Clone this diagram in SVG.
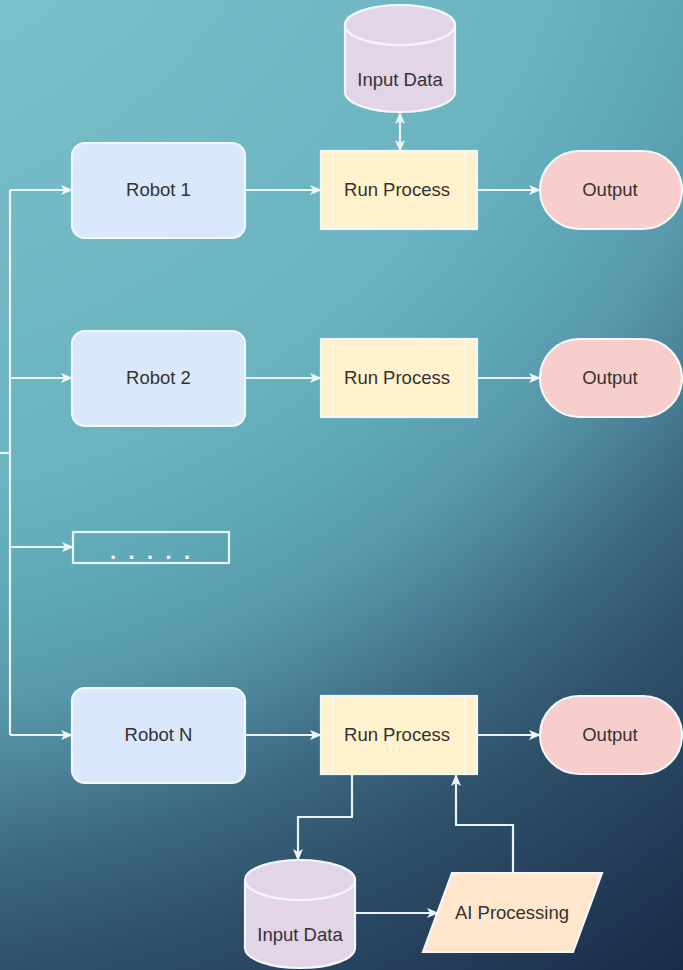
<svg xmlns="http://www.w3.org/2000/svg" width="683" height="970" viewBox="0 0 683 970">
  <defs>
    <radialGradient id="bg" gradientUnits="userSpaceOnUse" cx="-200" cy="-300" r="1550" fx="-200" fy="-300">
      <stop offset="0" stop-color="#8acbd4"/>
      <stop offset="0.23" stop-color="#7cc0cb"/>
      <stop offset="0.52" stop-color="#6ab3bf"/>
      <stop offset="0.60" stop-color="#5ea7b7"/>
      <stop offset="0.66" stop-color="#5898aa"/>
      <stop offset="0.71" stop-color="#4b8298"/>
      <stop offset="0.76" stop-color="#3c6881"/>
      <stop offset="0.83" stop-color="#2f5069"/>
      <stop offset="1" stop-color="#192a47"/>
    </radialGradient>
    <marker id="arr" viewBox="0 0 12 10" refX="11" refY="5" markerWidth="12" markerHeight="10" markerUnits="userSpaceOnUse" orient="auto-start-reverse">
      <path d="M0,0 L12,5 L0,10 L3,5 Z" fill="#eef6f8"/>
    </marker>
    <style>
      .node { stroke: #f2f7fa; stroke-width: 2.2; }
      .robot { fill: #dae8fc; }
      .proc { fill: #fff2cc; }
      .out { fill: #f8cecc; }
      .db { fill: #e1d5e7; }
      .ai { fill: #ffe6cc; }
      .inner { stroke: #fdfaf0; stroke-width: 1.2; fill: none; }
      .lbl { font-family: "Liberation Sans", Arial, Helvetica, sans-serif; font-size: 18.5px; fill: #333333; text-anchor: middle; }
      .conn { fill: none; stroke: #e8f3f6; stroke-width: 2.2; }
      .arrow { marker-end: url(#arr); }
    </style>
  </defs>

  <rect x="0" y="0" width="683" height="970" fill="url(#bg)"/>

  <g id="connectors">
    <path class="conn" d="M0,453 H10"/>
    <path class="conn" d="M10,190 V735"/>
    <path class="conn arrow" d="M10,190 H72"/>
    <path class="conn arrow" d="M10,378 H72"/>
    <path class="conn arrow" d="M10,547 H73"/>
    <path class="conn arrow" d="M10,735 H72"/>
    <path class="conn arrow" d="M245,190 H321"/>
    <path class="conn arrow" d="M245,378 H321"/>
    <path class="conn arrow" d="M245,735 H321"/>
    <path class="conn arrow" d="M477,190 H540"/>
    <path class="conn arrow" d="M477,378 H540"/>
    <path class="conn arrow" d="M477,735 H540"/>
    <path class="conn" d="M400,113 V151" marker-start="url(#arr)" marker-end="url(#arr)"/>
    <path class="conn arrow" d="M352,774 V817 H298 V860"/>
    <path class="conn arrow" d="M355,913 H438"/>
    <path class="conn arrow" d="M513,873 V825 H456 V775"/>
  </g>

  <g id="robot1">
    <rect class="node robot" x="72" y="143" width="173" height="95" rx="13"/>
    <text class="lbl" x="158.5" y="196">Robot 1</text>
  </g>
  <g id="process1">
    <rect class="node proc" x="321" y="151" width="156" height="78"/>
    <line class="inner" x1="333" y1="152" x2="333" y2="228"/>
    <line class="inner" x1="465" y1="152" x2="465" y2="228"/>
    <text class="lbl" x="397" y="196">Run Process</text>
  </g>
  <g id="output1">
    <rect class="node out" x="540" y="151" width="142" height="78" rx="39"/>
    <text class="lbl" x="610" y="196">Output</text>
  </g>
  <g id="inputdata1">
    <path class="node db" d="M345,25 A55,20 0 0 1 455,25 V92 A55,20 0 0 1 345,92 Z"/>
    <path class="node" fill="none" d="M345,25 A55,20 0 0 0 455,25"/>
    <text class="lbl" x="400" y="86">Input Data</text>
  </g>

  <g id="robot2">
    <rect class="node robot" x="72" y="331" width="173" height="95" rx="13"/>
    <text class="lbl" x="158.5" y="384">Robot 2</text>
  </g>
  <g id="process2">
    <rect class="node proc" x="321" y="339" width="156" height="78"/>
    <line class="inner" x1="333" y1="340" x2="333" y2="416"/>
    <line class="inner" x1="465" y1="340" x2="465" y2="416"/>
    <text class="lbl" x="397" y="384">Run Process</text>
  </g>
  <g id="output2">
    <rect class="node out" x="540" y="339" width="142" height="78" rx="39"/>
    <text class="lbl" x="610" y="384">Output</text>
  </g>

  <g id="ellipsis">
    <rect x="73" y="532" width="156" height="31" fill="none" stroke="#e8f3f6" stroke-width="2.2"/>
    <text x="110" y="559" font-family="'Liberation Sans', Arial, sans-serif" font-size="22" font-weight="bold" fill="#f4f9fb" letter-spacing="12.4">.....</text>
  </g>

  <g id="robotN">
    <rect class="node robot" x="72" y="688" width="173" height="95" rx="13"/>
    <text class="lbl" x="158.5" y="741">Robot N</text>
  </g>
  <g id="processN">
    <rect class="node proc" x="321" y="696" width="156" height="78"/>
    <line class="inner" x1="333" y1="697" x2="333" y2="773"/>
    <line class="inner" x1="465" y1="697" x2="465" y2="773"/>
    <text class="lbl" x="397" y="741">Run Process</text>
  </g>
  <g id="outputN">
    <rect class="node out" x="540" y="696" width="142" height="78" rx="39"/>
    <text class="lbl" x="610" y="741">Output</text>
  </g>
  <g id="inputdata2">
    <path class="node db" d="M245,880 A55,20 0 0 1 355,880 V948 A55,20 0 0 1 245,948 Z"/>
    <path class="node" fill="none" d="M245,880 A55,20 0 0 0 355,880"/>
    <text class="lbl" x="300" y="941">Input Data</text>
  </g>
  <g id="aiprocessing">
    <polygon class="node ai" points="452,873 602,873 573,952 423,952"/>
    <text class="lbl" x="512" y="919">AI Processing</text>
  </g>
</svg>
